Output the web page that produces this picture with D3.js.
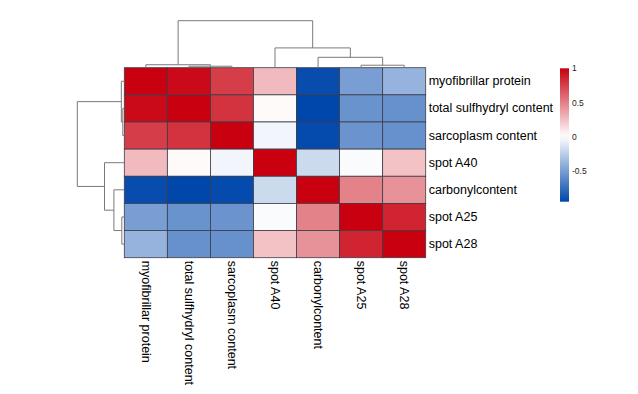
<!DOCTYPE html>
<html>
<head>
<meta charset="utf-8">
<script src="https://cdn.jsdelivr.net/npm/d3@7"></script>
<style>
html,body{margin:0;padding:0;background:#fff;}
svg{display:block;font-family:"Liberation Sans",Arial,sans-serif;}
</style>
</head>
<body>
<svg id="chart" width="638" height="394"></svg>
<script>
// ---- data ----
const labels = ["myofibrillar protein","total sulfhydryl content","sarcoplasm content","spot A40","carbonylcontent","spot A25","spot A28"];
const rowMP  = [ 1.00,  0.96,  0.76,  0.27, -0.92, -0.50, -0.39];
const rowTS  = [ 0.96,  1.00,  0.80,  0.02, -0.95, -0.56, -0.57];
const rowSC  = [ 0.76,  0.80,  1.00, -0.05, -0.93, -0.55, -0.57];
const rowA40 = [ 0.27,  0.02, -0.05,  1.00, -0.19, -0.02,  0.24];
const rowCC  = [-0.92, -0.95, -0.93, -0.19,  1.00,  0.49,  0.43];
const rowA25 = [-0.50, -0.56, -0.55, -0.02,  0.49,  1.00,  0.86];
const rowA28 = [-0.39, -0.57, -0.57,  0.24,  0.43,  0.86,  1.00];
const matrix = [rowMP,rowTS,rowSC,rowA40,rowCC,rowA25,rowA28];
// dendrogram (same for rows and columns): children & merge heights
const mergeLeft   = ["L1","L0","L5","L4","L3","N1"];
const mergeRight  = ["L2","N0","L6","N2","N3","N4"];
const mergeHeight = [0.06, 0.12, 0.10, 0.42, 0.80, 1.90];
const legendTicks = [1, 0.5, 0, -0.5];
const colorDomain = [-0.95, 0, 1];

// ---- layout ----
const svg = d3.select("#chart");
const hx0 = 124.3, hx1 = 425.7, hy0 = 67.7, hy1 = 257.7;
const x = d3.scaleBand().domain(d3.range(labels.length)).range([hx0, hx1]).padding(0);
const y = d3.scaleBand().domain(d3.range(labels.length)).range([hy0, hy1]).padding(0);
const color = d3.scaleLinear().domain(colorDomain).range(["#0047AB","#FFFFFF","#C8000F"]);
const treeH = d3.scaleLinear().domain([0, d3.max(mergeHeight)]).range([0, 47]);

// cells
const cells = [];
matrix.forEach((row, i) => row.forEach((v, j) => cells.push({i, j, v})));
svg.append("g").selectAll("rect").data(cells).join("rect")
  .attr("x", d => x(d.j)).attr("y", d => y(d.i))
  .attr("width", x.bandwidth()).attr("height", y.bandwidth())
  .attr("fill", d => color(d.v))
  .attr("stroke", "#3c3c48").attr("stroke-width", 0.8);

// dendrogram segments
function treeSegments(band) {
  const nodes = {};
  labels.forEach((l, k) => nodes["L"+k] = {pos: band(k) + band.bandwidth()/2, h: 0});
  const segs = [];
  mergeHeight.forEach((h, k) => {
    const a = nodes[mergeLeft[k]], b = nodes[mergeRight[k]];
    segs.push([a.pos, a.h, a.pos, h]);
    segs.push([a.pos, h, b.pos, h]);
    segs.push([b.pos, h, b.pos, b.h]);
    nodes["N"+k] = {pos: (a.pos + b.pos)/2, h};
  });
  return segs;
}
// column dendrogram
svg.append("g").selectAll("line").data(treeSegments(x)).join("line")
  .attr("x1", d => d[0]).attr("y1", d => hy0 - treeH(d[1]))
  .attr("x2", d => d[2]).attr("y2", d => hy0 - treeH(d[3]))
  .attr("stroke", "#7a7a7a").attr("stroke-width", 1);
// row dendrogram
svg.append("g").selectAll("line").data(treeSegments(y)).join("line")
  .attr("y1", d => d[0]).attr("x1", d => hx0 - treeH(d[1]))
  .attr("y2", d => d[2]).attr("x2", d => hx0 - treeH(d[3]))
  .attr("stroke", "#7a7a7a").attr("stroke-width", 1);

// row labels
svg.append("g").selectAll("text").data(labels).join("text")
  .attr("x", hx1 + 3).attr("y", (d, i) => y(i) + y.bandwidth()/2)
  .attr("dominant-baseline", "central")
  .attr("font-size", "12.5px").attr("fill", "#000")
  .text(d => d);
// column labels
svg.append("g").selectAll("text").data(labels).join("text")
  .attr("transform", (d, i) => `translate(${x(i) + x.bandwidth()/2},${hy1 + 3}) rotate(90)`)
  .attr("dominant-baseline", "central")
  .attr("font-size", "12.5px").attr("fill", "#000")
  .text(d => d);

// legend
const lx = 560, lw = 9;
const ly = d3.scaleLinear().domain([colorDomain[0], colorDomain[2]]).range([201.7, 68.3]);
const defs = svg.append("defs");
const grad = defs.append("linearGradient").attr("id", "lg").attr("x1", 0).attr("x2", 0).attr("y1", 1).attr("y2", 0);
d3.range(0, 1.0001, 0.05).forEach(t => {
  const v = colorDomain[0] + t * (colorDomain[2] - colorDomain[0]);
  grad.append("stop").attr("offset", t).attr("stop-color", color(v));
});
svg.append("rect").attr("x", lx).attr("y", ly(colorDomain[2])).attr("width", lw)
  .attr("height", ly(colorDomain[0]) - ly(colorDomain[2])).attr("fill", "url(#lg)");
svg.append("g").selectAll("text").data(legendTicks).join("text")
  .attr("x", lx + lw + 3).attr("y", d => ly(d))
  .attr("dominant-baseline", "central")
  .attr("font-size", "8.5px").attr("fill", "#222")
  .text(d => d);
</script>
</body>
</html>
